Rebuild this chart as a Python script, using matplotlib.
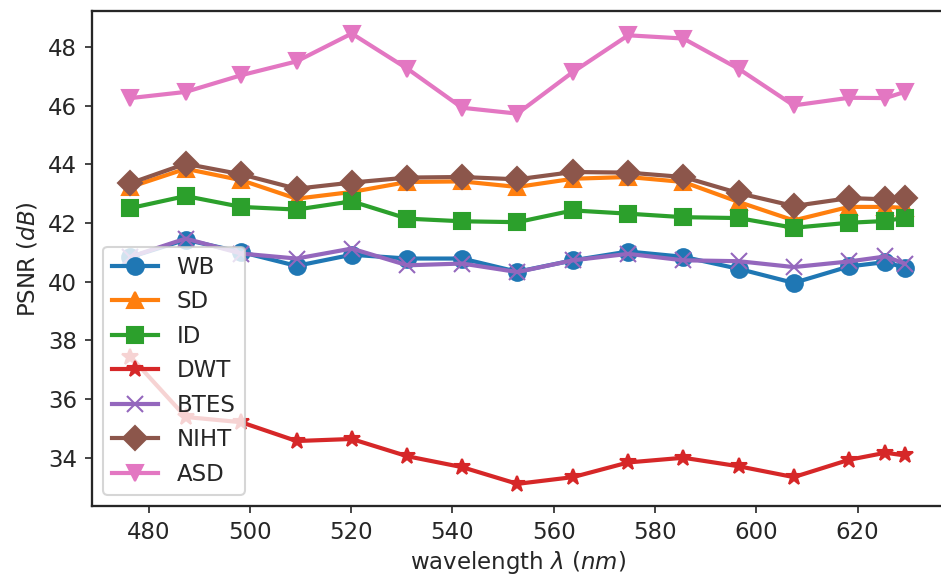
import matplotlib
matplotlib.use('Agg')
import matplotlib.pyplot as plt

# Datos
wavelength = [476.4, 487.3, 498.3, 509.2, 520.1, 531.1, 541.9, 552.8,
              563.8, 574.7, 585.6, 596.5, 607.4, 618.3, 625.5, 629.3]

wb = [40.84, 41.43, 41.01, 40.54, 40.92, 40.79, 40.79, 40.34,
      40.73, 41.03, 40.85, 40.44, 39.96, 40.52, 40.67, 40.48]
sd = [43.23, 43.85, 43.46, 42.83, 43.06, 43.40, 43.42, 43.23,
      43.51, 43.57, 43.40, 42.72, 42.09, 42.55, 42.55, 42.52]
id_ = [42.51, 42.92, 42.55, 42.46, 42.74, 42.15, 42.06, 42.03,
       42.43, 42.32, 42.20, 42.17, 41.84, 42.01, 42.07, 42.18]
dwt = [37.45, 35.39, 35.21, 34.57, 34.64, 34.05, 33.68, 33.11,
       33.34, 33.84, 34.00, 33.71, 33.34, 33.93, 34.17, 34.08]
btes = [40.85, 41.47, 40.96, 40.79, 41.13, 40.56, 40.62, 40.33,
        40.73, 40.95, 40.73, 40.70, 40.50, 40.69, 40.86, 40.62]
niht = [43.36, 44.02, 43.66, 43.17, 43.38, 43.55, 43.57, 43.49,
        43.74, 43.72, 43.57, 43.02, 42.58, 42.85, 42.81, 42.86]
asd = [46.26, 46.47, 47.04, 47.51, 48.46, 47.26, 45.93, 45.73,
       47.15, 48.40, 48.29, 47.26, 46.01, 46.27, 46.26, 46.47]

plt.rcParams['font.size'] = 11
plt.rcParams['axes.edgecolor'] = '.15'
plt.rcParams['axes.linewidth'] = 1.1
plt.rcParams['xtick.color'] = '.15'
plt.rcParams['ytick.color'] = '.15'
plt.rcParams['text.color'] = '.15'
plt.rcParams['axes.labelcolor'] = '.15'

fig = plt.figure(figsize=(941 / 150, 577 / 150), dpi=150)
ax = fig.add_axes([0.0975, 0.1224, 0.905, 0.8585])

ax.plot(wavelength, wb, marker='o', lw=2, ms=8, label='WB')
ax.plot(wavelength, sd, marker='^', lw=2, ms=8, label='SD')
ax.plot(wavelength, id_, marker='s', lw=2, ms=8, label='ID')
ax.plot(wavelength, dwt, marker='*', lw=2, ms=8, label='DWT')
ax.plot(wavelength, btes, marker='x', lw=2, ms=8, label='BTES')
ax.plot(wavelength, niht, marker='D', lw=2, ms=8, label='NIHT')
ax.plot(wavelength, asd, marker='v', lw=2, ms=8, label='ASD')

ax.set_xlabel(r'wavelength $\lambda$ ($nm$)', labelpad=2.5)
ax.set_ylabel(r'PSNR ($dB$)')
ax.legend(loc='lower left')

plt.savefig('out.png', dpi=150)
